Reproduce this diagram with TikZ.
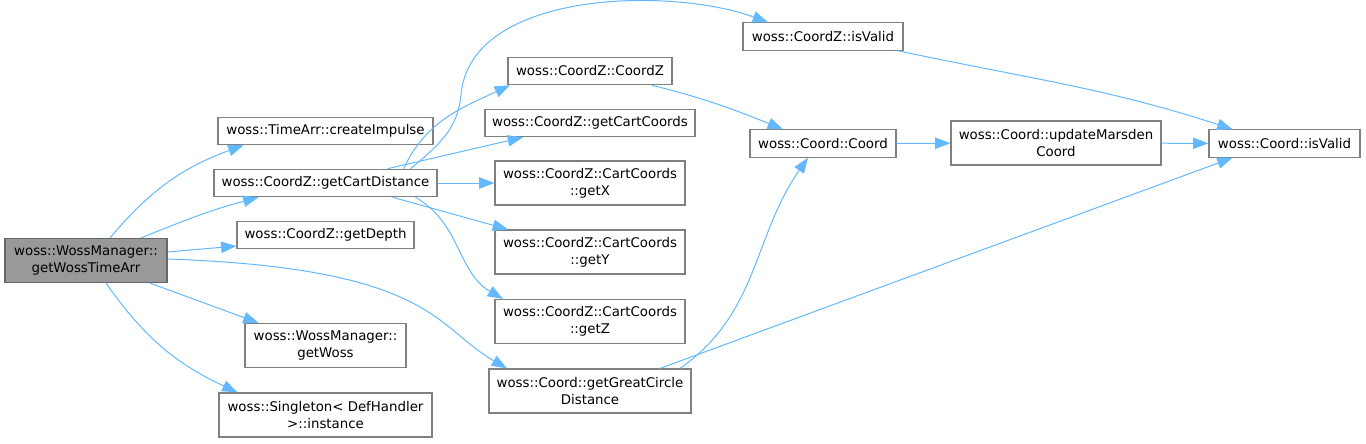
\documentclass[tikz,border=0pt]{standalone}
\usepackage{fontspec}
\setmainfont{DejaVu Sans}
\usepackage{xcolor}
\usepackage{tikz}
\usetikzlibrary{positioning,arrows.meta,calc}

\definecolor{edgeblue}{HTML}{63B8FF}
\definecolor{boxgray}{HTML}{808080}
\definecolor{maingray}{HTML}{999999}
\definecolor{mainborder}{HTML}{666666}

\tikzset{
  fn/.style={rectangle, draw=boxgray, line width=0.9pt, fill=white, align=center,
    minimum height=20.5pt, inner xsep=2pt, inner ysep=2pt,
    font=\fontsize{10}{12.5}\selectfont},
  fnmain/.style={fn, draw=mainborder, fill=maingray},
  call/.style={draw=edgeblue, line width=0.75pt, -{Triangle[length=11.5pt,width=8.5pt]}}
}

\begin{document}
\begin{tikzpicture}[x=0.75pt, y=0.75pt]
\useasboundingbox (0,0) rectangle (1366,-443);

% 
\node[fnmain, minimum width=121.5pt, minimum height=33pt] (main) at (86,-260.5) {woss::WossManager::\\getWossTimeArr};

% 
\node[fn, minimum width=161.25pt] (impulse) at (325.5,-131) {woss::TimeArr::createImpulse};
\node[fn, minimum width=167.25pt] (cartdist) at (325.5,-183) {woss::CoordZ::getCartDistance};
\node[fn, minimum width=132.75pt] (depth) at (325.5,-235) {woss::CoordZ::getDepth};
\node[fn, minimum width=120.75pt, minimum height=33pt] (getwoss) at (325.5,-345.5) {woss::WossManager::\\getWoss};
\node[fn, minimum width=159.75pt, minimum height=33pt] (instance) at (325.5,-415) {woss::Singleton< DefHandler\\>::instance};

% 
\node[fn, minimum width=123pt] (czctor) at (590,-71) {woss::CoordZ::CoordZ};
\node[fn, minimum width=157.5pt] (cartcoords) at (590,-123) {woss::CoordZ::getCartCoords};
\node[fn, minimum width=142.5pt, minimum height=33pt] (getx) at (590,-183) {woss::CoordZ::CartCoords\\::getX};
\node[fn, minimum width=142.5pt, minimum height=33pt] (gety) at (590,-252) {woss::CoordZ::CartCoords\\::getY};
\node[fn, minimum width=142.5pt, minimum height=33pt] (getz) at (590,-321.5) {woss::CoordZ::CartCoords\\::getZ};
\node[fn, minimum width=151.5pt, minimum height=33pt] (greatcircle) at (590,-391) {woss::Coord::getGreatCircle\\Distance};

% 
\node[fn, minimum width=120pt] (czvalid) at (823,-36.5) {woss::CoordZ::isValid};
\node[fn, minimum width=109.5pt] (cctor) at (823,-143.5) {woss::Coord::Coord};
\node[fn, minimum width=157.5pt, minimum height=33pt] (marsden) at (1056,-143) {woss::Coord::updateMarsden\\Coord};
\node[fn, minimum width=113.25pt] (cvalid) at (1284.5,-143.5) {woss::Coord::isValid};

% 
\draw[call] ($(main.north)+(24,0)$) to[out=50,in=200] ($(impulse.south)+(-82,0)$);
\draw[call] ($(main.north)+(55,0)$) to[out=22,in=195] ($(cartdist.south)+(-67,0)$);
\draw[call] ($(main.east)+(0,8.5)$) -- ($(depth.west)+(0,-11)$);
\draw[call] ($(main.east)+(0,1.5)$) to[out=-2,in=150,out looseness=1.9,in looseness=0.6] ($(greatcircle.north)+(-83,0)$);
\draw[call] ($(main.south)+(64,0)$) -- ($(getwoss.north)+(-67,0)$);
\draw[call] ($(main.south)+(20,0)$) to[out=-55,in=155] ($(instance.north)+(-88,0)$);

% 
\draw[call] ($(cartdist.north)+(85,0)$) to[out=40,in=-95] ($(cartdist.north)+(135.5,74)$)
  to[out=85,in=160,looseness=0.85] ($(czvalid.north)+(-55,0)$);
\draw[call] ($(cartdist.north)+(78,0)$) to[out=65,in=205] ($(czctor.south)+(-80,0)$);
\draw[call] ($(cartdist.north)+(62,0)$) -- ($(cartcoords.south)+(-67,0)$);
\draw[call] (cartdist.east) -- (getx.west);
\draw[call] ($(cartdist.south)+(67,0)$) -- ($(gety.north)+(-82,0)$);
\draw[call] ($(cartdist.south)+(90,0)$) to[out=-30,in=150] ($(getz.north)+(-87,0)$);

% 
\draw[call] ($(czctor.south)+(62,0)$) to[out=-14,in=158] ($(cctor.north)+(-40,0)$);
\draw[call] ($(czvalid.south)+(75,0)$) to[out=-12,in=162] ($(cvalid.north)+(-52,0)$);
\draw[call] (cctor) -- (marsden);
\draw[call] (marsden) -- (cvalid);
\draw[call] ($(greatcircle.north)+(90,0)$) to[out=35,in=-125] ($(cctor.south)+(-15,0)$);
\draw[call] ($(greatcircle.north)+(70,0)$) -- ($(cvalid.south)+(-52,0)$);

\end{tikzpicture}
\end{document}
